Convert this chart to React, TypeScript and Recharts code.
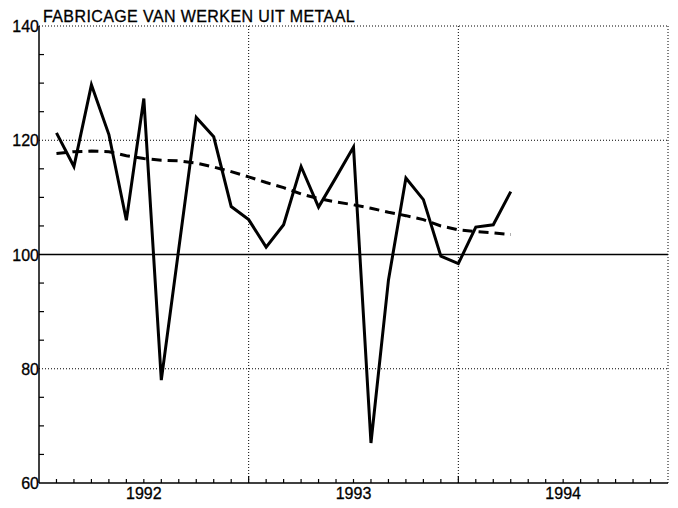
import { LineChart, Line, XAxis, YAxis, CartesianGrid, ReferenceLine } from 'recharts'

const TITLE = 'FABRICAGE VAN WERKEN UIT METAAL'

// months counted from jan 1992 (0 = 1 jan 1992)
const months = [1, 2, 3, 4, 5, 6, 7, 8, 9, 10, 11, 12, 13, 14, 15, 16, 17, 18, 19, 20, 21, 22, 23, 24, 25, 26, 27]
const indexValues = [
  121.3, 115.4, 129.7, 121, 106, 127.3, 78, 101, 124, 120.6, 108.4, 106.1,
  101.3, 105.2, 115.4, 108.3, 113.5, 118.8, 67, 95.5, 113.4, 109.6, 99.7, 98.4,
  104.8, 105.2, 111,
]
const trendValues = [
  117.7, 118.0, 118.1, 118.0, 117.3, 116.8, 116.5, 116.4, 116.0, 115.3, 114.5, 113.6,
  112.6, 111.7, 110.6, 109.8, 109.2, 108.7, 108.1, 107.4, 106.8, 106.1, 105.0, 104.3,
  104.0, 103.8, 103.5,
]

const yearLabels = ['1992', '1993', '1994']
const yearLabelMonths = [6, 18, 30]
const monthTicks = Array.from({ length: 37 }, (_, i) => i)
const yTicks = [60, 65, 70, 75, 80, 85, 90, 95, 100, 105, 110, 115, 120, 125, 130, 135, 140]
const yLabels = [60, 80, 100, 120, 140]

const data = months.map((m, i) => ({ month: m, index: indexValues[i], trend: trendValues[i] }))

const FONT = '"Liberation Sans", Arial, Helvetica, sans-serif'
const INK = '#000'

function YTick({ x, y, payload }: any) {
  const v = payload.value
  const labelled = yLabels.includes(v)
  return (
    <g>
      {!labelled && <line x1={x} x2={x + 5} y1={y} y2={y} stroke={INK} strokeWidth={1.2} />}
      {labelled && (
        <text x={x} y={y} dy={6} textAnchor="end" fontSize={16} fontFamily={FONT} fill={INK} stroke={INK} strokeWidth={0.3}>
          {v}
        </text>
      )}
    </g>
  )
}

function XTick({ x, y, payload }: any) {
  const v = payload.value
  const li = yearLabelMonths.indexOf(v)
  const isYear = v % 12 === 0
  return (
    <g>
      {v > 0 && v < 36 && (
        <line x1={x} x2={x} y1={y} y2={y - (isYear ? 7 : 4)} stroke={INK} strokeWidth={1.2} />
      )}
      {li >= 0 && (
        <text x={x} y={y + 16} textAnchor="middle" fontSize={16} fontFamily={FONT} fill={INK} stroke={INK} strokeWidth={0.3}>
          {yearLabels[li]}
        </text>
      )}
    </g>
  )
}

export default function App() {
  return (
    <div style={{ position: 'absolute', left: 0, top: 0, width: 678, height: 508, background: '#fff' }}>
      <LineChart width={678} height={508} data={data} margin={{ top: 26, right: 10, bottom: 0, left: 0 }}>
        <CartesianGrid
          stroke={INK}
          strokeDasharray="1 2"
          strokeWidth={1}
          horizontalValues={[80, 120, 140]}
          verticalValues={[12, 24, 36]}
        />
        <ReferenceLine y={100} stroke={INK} strokeWidth={1.5} />
        <XAxis
          dataKey="month"
          type="number"
          domain={[0, 36]}
          ticks={monthTicks}
          interval={0}
          tickSize={0}
          tickMargin={0}
          height={25}
          tick={<XTick />}
          axisLine={{ stroke: INK, strokeWidth: 1.5 }}
          tickLine={false}
        />
        <YAxis
          type="number"
          domain={[60, 140]}
          ticks={yTicks}
          interval={0}
          tickSize={0}
          tickMargin={0}
          width={39}
          tick={<YTick />}
          axisLine={{ stroke: INK, strokeWidth: 1.5 }}
          tickLine={false}
        />
        <Line
          type="linear"
          dataKey="trend"
          stroke={INK}
          strokeWidth={3}
          strokeDasharray="10 6"
          dot={false}
          isAnimationActive={false}
        />
        <Line
          type="linear"
          dataKey="index"
          stroke={INK}
          strokeWidth={3}
          dot={false}
          isAnimationActive={false}
        />
      </LineChart>
      <svg width={678} height={30} style={{ position: 'absolute', left: 0, top: 0, pointerEvents: 'none' }}>
        <text x={43} y={22} fontSize={16} letterSpacing={0.4} fontFamily={FONT} fill={INK} stroke={INK} strokeWidth={0.3}>
          {TITLE}
        </text>
      </svg>
    </div>
  )
}
